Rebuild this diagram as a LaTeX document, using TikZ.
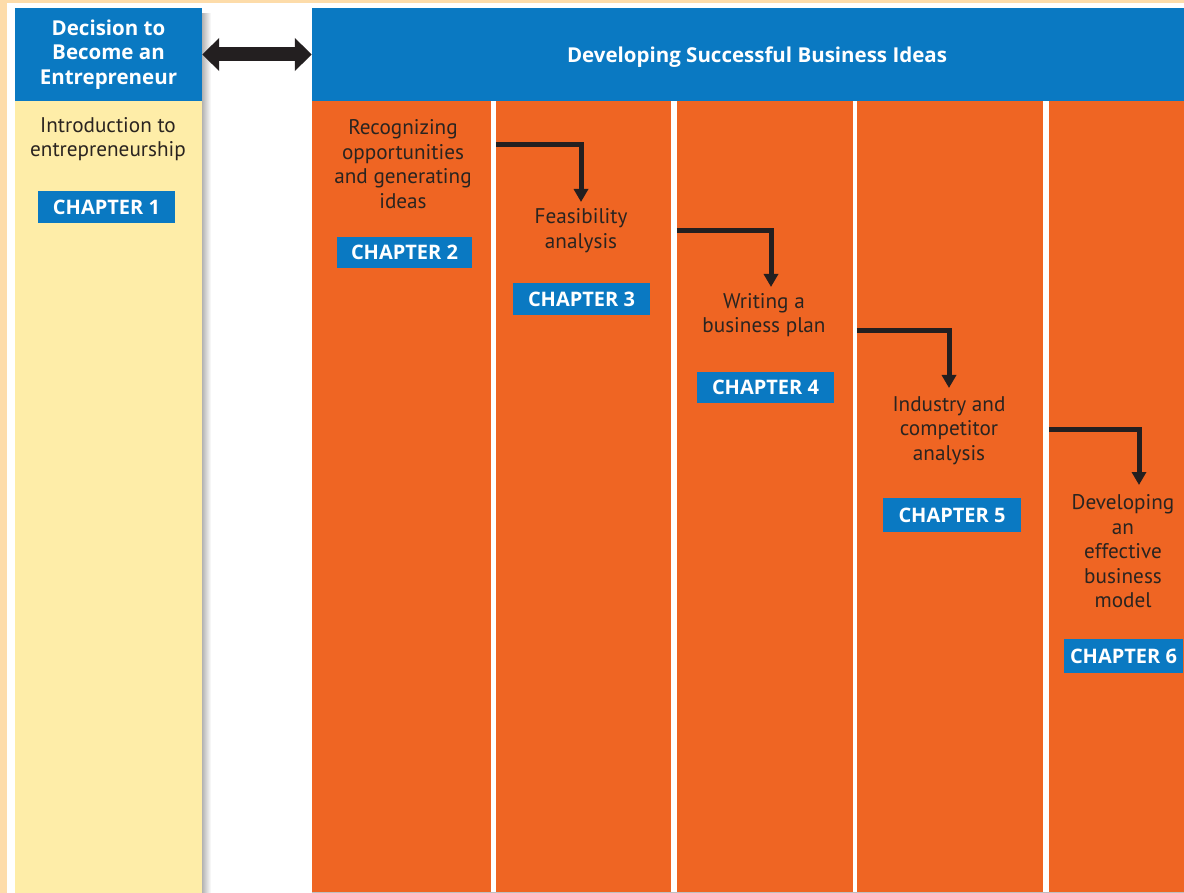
\documentclass[tikz,border=0pt]{standalone}
\usepackage{fontspec}
\setmainfont{PT Sans}
\newfontfamily\hfont{Open Sans}
\usetikzlibrary{arrows.meta}
\definecolor{hblue}{HTML}{0A79C2}
\definecolor{corange}{HTML}{EF6523}
\definecolor{cyellow}{HTML}{FEEDA8}
\definecolor{peach}{HTML}{FDDCAA}
\definecolor{ink}{HTML}{2A2420}
\definecolor{arrowink}{HTML}{231F20}
\tikzset{
  header/.style={fill=hblue, inner sep=0pt, text=white, font=\hfont\bfseries\fontsize{20.5}{24.5}\selectfont, align=center},
  column/.style={fill=corange, inner sep=0pt, minimum height=792pt},
  ycolumn/.style={fill=cyellow, inner sep=0pt, minimum height=792pt},
  label/.style={text=ink, font=\fontsize{21.2}{24.5}\selectfont, align=center, inner sep=0pt},
  chapbox/.style={fill=hblue, text=white, inner sep=0pt, font=\hfont\bfseries\fontsize{20}{22}\selectfont},
  flow/.style={draw=arrowink, line width=5pt, -{Triangle[width=14pt,length=13pt]}},
  bigarrow/.style={draw=arrowink, line width=14pt, {Triangle[width=32pt,length=17pt]}-{Triangle[width=32pt,length=17pt]}}
}
\begin{document}
\begin{tikzpicture}[x=1pt,y=-1pt]
\useasboundingbox (0,0) rectangle (1184,893);
\fill[peach] (0,0) rectangle (1184,893);
\fill[white] (7,3) rectangle (1184,893);
% shadow of left column
\shade[left color=black!30, right color=white] (202,14) rectangle (211,893);
% left column
\node[header, minimum width=187pt, minimum height=93pt] (dec) at (108.5,54.5) {Decision to\\Become an\\Entrepreneur};
\node[ycolumn, minimum width=187pt] (ycol) at (108.5,497) {};
% right header
\node[fill=hblue, inner sep=0pt, minimum width=872pt, minimum height=93pt] (devbar) at (748,54.5) {};
\node[header] (devtitle) at (757,57) {Developing Successful Business Ideas};
% orange columns
\node[column, minimum width=179pt] (c1) at (401.5,497) {};
\node[column, minimum width=175pt] (c2) at (583.5,497) {};
\node[column, minimum width=176pt] (c3) at (765,497) {};
\node[column, minimum width=186pt] (c4) at (950,497) {};
\node[column, minimum width=135pt] (c5) at (1116.5,497) {};
\draw[black!25, line width=1pt] (312,892.5) -- (1184,892.5);
% double arrow
\draw[bigarrow] (dec.east) -- (devbar.west);
% labels
\node[label] (intro) at (108,139) {Introduction to\\entrepreneurship};
\node[label] (rec) at (403,164) {Recognizing\\opportunities\\and generating\\ideas};
\node[label] (feas) at (581,230.5) {Feasibility\\analysis};
\node[label] (writ) at (764,315) {Writing a\\business plan};
\node[label] (ind) at (949,430.5) {Industry and\\competitor\\analysis};
\node[label] (devm) at (1123,551.5) {Developing\\an\\effective\\business\\model};
% chapter boxes
\node[chapbox, minimum width=137pt, minimum height=32pt] (ch1) at (106.5,207) {CHAPTER 1};
\node[chapbox, minimum width=135pt, minimum height=31pt] (ch2) at (404.5,252.5) {CHAPTER 2};
\node[chapbox, minimum width=137pt, minimum height=32pt] (ch3) at (581.5,299) {CHAPTER 3};
\node[chapbox, minimum width=137pt, minimum height=31pt] (ch4) at (765.5,387.5) {CHAPTER 4};
\node[chapbox, minimum width=138pt, minimum height=34pt] (ch5) at (952,515) {CHAPTER 5};
\node[chapbox, minimum width=119pt, minimum height=34pt] (ch6) at (1123.5,656) {CHAPTER 6};
% flow connectors
\coordinate (s1) at (c2.west |- 0,144.5);
\coordinate (e1) at (581,202);
\coordinate (s2) at (c3.west |- 0,231);
\coordinate (e2) at (771,287);
\coordinate (s3) at (c4.west |- 0,331);
\coordinate (e3) at (949,388);
\coordinate (s4) at (c5.west |- 0,429);
\coordinate (e4) at (1139,485);
\draw[flow] (s1) -| (e1);
\draw[flow] (s2) -| (e2);
\draw[flow] (s3) -| (e3);
\draw[flow] (s4) -| (e4);
\end{tikzpicture}
\end{document}
